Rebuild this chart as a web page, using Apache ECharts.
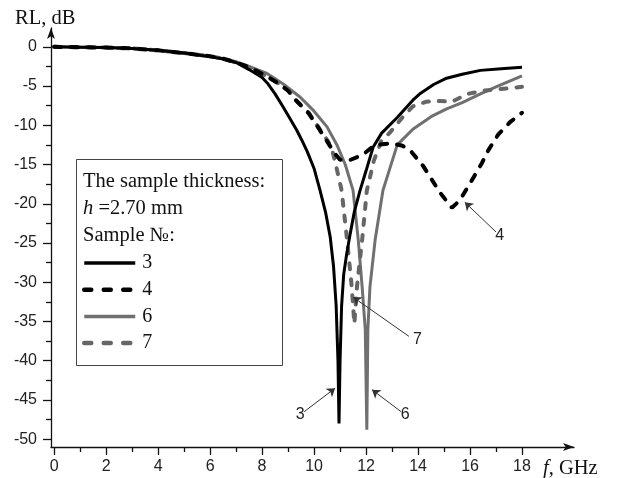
<!DOCTYPE html>
<html>
<head>
<meta charset="utf-8">
<script src="https://cdn.jsdelivr.net/npm/echarts@6/dist/echarts.min.js"></script>
<style>
  html, body { margin: 0; padding: 0; background: #fff; }
  #chart { width: 618px; height: 478px; }
</style>
</head>
<body>
<div id="chart"></div>
<script>
// sample 3 (black solid)
var freq3 = [0, 1, 2, 3, 4, 5, 6, 6.5, 7, 7.5, 8, 8.2, 8.5, 8.8, 9.1, 9.33, 9.53, 9.73, 10.0, 10.23, 10.45, 10.62, 10.75, 10.85, 10.92, 10.96, 11.0, 11.06, 11.14, 11.25, 11.38, 11.55, 11.77, 12.0, 12.27, 12.6, 13.2, 13.8, 14.1, 14.6, 15.1, 15.7, 16.4, 17.2, 18];
var rl3 = [0, -0.05, -0.1, -0.2, -0.45, -0.8, -1.25, -1.55, -2.0, -2.9, -3.9, -4.6, -6.0, -7.6, -9.3, -10.6, -11.9, -13.3, -15.5, -18.3, -21.2, -24.2, -28, -33, -40, -48, -40, -33, -29, -26.5, -24.0, -21, -18.3, -15.8, -12.8, -11, -9.0, -6.8, -5.9, -4.8, -4.0, -3.5, -3.0, -2.8, -2.6];

// sample 4 (black dashed)
var freq4 = [0, 1, 2, 3, 4, 5, 6, 6.5, 7, 7.5, 8.1, 8.6, 9.0, 9.3, 9.8, 10.2, 10.55, 10.8, 11.0, 11.4, 11.85, 12.35, 13.0, 13.4, 13.7, 14.2, 14.85, 15.3, 15.6, 16.0, 16.46, 16.7, 17.08, 17.54, 18];
var rl4 = [0, -0.05, -0.1, -0.2, -0.45, -0.8, -1.2, -1.5, -2.0, -2.6, -3.6, -4.6, -5.6, -6.8, -8.5, -10.5, -12.3, -13.6, -14.4, -14.4, -13.8, -12.5, -12.3, -12.6, -13.2, -15.2, -18.6, -20.5, -19.6, -17.4, -14.8, -13.2, -11.2, -9.6, -8.4];

// sample 6 (grey solid)
var freq6 = [0, 1, 2, 3, 4, 5, 6, 6.5, 7, 7.5, 8.19, 8.8, 9.46, 10.0, 10.5, 10.88, 11.2, 11.5, 11.7, 11.85, 11.97, 12.03, 12.07, 12.15, 12.35, 12.65, 13.2, 13.8, 14.5, 15.1, 15.7, 16.4, 17.0, 17.5, 18];
var rl6 = [0, -0.05, -0.1, -0.2, -0.45, -0.8, -1.2, -1.5, -1.9, -2.5, -3.4, -4.7, -6.4, -8.2, -10.2, -12.5, -15, -18.3, -24.6, -30.6, -36, -48.8, -36, -30.6, -24.6, -18.3, -12.5, -10.5, -8.9, -7.9, -7.1, -6.0, -5.1, -4.4, -3.7];

// sample 7 (grey dashed)
var freq7 = [0, 1, 2, 3, 4, 5, 6, 6.5, 7, 7.5, 8.1, 8.6, 9.0, 9.3, 9.8, 10.2, 10.55, 10.7, 10.85, 11.06, 11.27, 11.45, 11.55, 11.65, 11.85, 12.03, 12.3, 12.6, 12.9, 13.4, 13.8, 14.3, 14.85, 15.3, 15.9, 16.5, 17.4, 18];
var rl7 = [0, -0.05, -0.1, -0.2, -0.45, -0.8, -1.2, -1.5, -2.0, -2.6, -3.6, -4.6, -5.5, -6.8, -8.4, -10.4, -12.1, -13.2, -15.2, -18.3, -24.6, -30.6, -35.3, -30.6, -24.6, -18.3, -14.5, -11.9, -11.0, -9.0, -7.6, -7.0, -6.9, -7.0, -6.0, -5.6, -5.3, -5.1];

// axis ticks
var xMajor = [0, 2, 4, 6, 8, 10, 12, 14, 16, 18];
var xMinor = [1, 3, 5, 7, 9, 11, 13, 15, 17];
var yMajor = [0, -5, -10, -15, -20, -25, -30, -35, -40, -45, -50];
var yMinor = [-2.5, -7.5, -12.5, -17.5, -22.5, -27.5, -32.5, -37.5, -42.5, -47.5];

// pointer arrows: [label, from x, from y, to x, to y]
var pointers = [
    ['3', 9.62, -46.5, 10.81, -43.5],
    ['6', 13.35, -46.5, 12.23, -43.7],
    ['7', 13.65, -36.9, 11.5, -31.9],
    ['4', 17.0, -23.6, 15.8, -19.8]
];

function zip(xs, ys) {
    return xs.map(function (x, i) {
        return [x, ys[i]];
    });
}

var SANS = 'Liberation Sans, Arial, sans-serif';
var SERIF = 'Liberation Serif, Times New Roman, serif';
var AXIS_STYLE = {color: '#111', width: 1.3};

var chart = echarts.init(document.getElementById('chart'), null, {renderer: 'canvas'});

var option = {
    animation: false,
    grid: {left: 51, right: 44, top: 28, bottom: 31},
    xAxis: [
        {
            type: 'value', min: -0.12, max: 20,
            splitLine: {show: false},
            axisLine: {onZero: false, symbol: ['none', 'arrow'], symbolSize: [6, 11], lineStyle: AXIS_STYLE},
            axisTick: {customValues: xMajor, length: 8, lineStyle: AXIS_STYLE},
            axisLabel: {customValues: xMajor, margin: 12, fontFamily: SANS, fontSize: 16, color: '#222'}
        },
        {
            // minor ticks only
            type: 'value', min: -0.12, max: 20, position: 'bottom',
            splitLine: {show: false},
            axisLine: {show: false, onZero: false},
            axisLabel: {show: false},
            axisTick: {customValues: xMinor, length: 5, lineStyle: AXIS_STYLE}
        }
    ],
    yAxis: [
        {
            type: 'value', min: -51, max: 2.4,
            splitLine: {show: false},
            axisLine: {onZero: false, symbol: ['none', 'arrow'], symbolSize: [6, 11], lineStyle: AXIS_STYLE},
            axisTick: {customValues: yMajor, length: 8, lineStyle: AXIS_STYLE},
            axisLabel: {customValues: yMajor, margin: 14, fontFamily: SANS, fontSize: 16, color: '#222'}
        },
        {
            type: 'value', min: -51, max: 2.4, position: 'left',
            splitLine: {show: false},
            axisLine: {show: false, onZero: false},
            axisLabel: {show: false},
            axisTick: {customValues: yMinor, length: 5, lineStyle: AXIS_STYLE}
        }
    ],
    legend: {
        orient: 'vertical',
        left: 82,
        top: 253,
        padding: 0,
        itemWidth: 51,
        itemHeight: 14,
        itemGap: 6.7,
        data: [
            {name: '3', lineStyle: {width: 3.5}},
            {name: '4', lineStyle: {width: 4.5, type: [7, 12.5], cap: 'round'}},
            {name: '6', lineStyle: {width: 3.5}},
            {name: '7', lineStyle: {width: 4.5, type: [7, 12.5], cap: 'round'}}
        ],
        itemStyle: {opacity: 0},
        textStyle: {fontFamily: SERIF, fontSize: 20, color: '#111', lineHeight: 20, padding: [0, 0, 0, 2]}
    },
    graphic: [
        {
            type: 'rect', z: 3,
            shape: {x: 76.5, y: 159.5, width: 206, height: 206},
            style: {fill: '#fff', stroke: '#444', lineWidth: 1}
        },
        {
            type: 'text', z: 5, left: 83, top: 171,
            style: {text: 'The sample thickness:', font: '20.5px ' + SERIF, fill: '#111'}
        },
        {
            type: 'text', z: 5, left: 83, top: 198,
            style: {
                text: '{i|h} =2.70 mm',
                font: '20.5px ' + SERIF, fill: '#111',
                rich: {i: {fontStyle: 'italic', fontFamily: SERIF, fontSize: 20.5}}
            }
        },
        {
            type: 'text', z: 5, left: 83, top: 225,
            style: {text: 'Sample №:', font: '20.5px ' + SERIF, fill: '#111'}
        },
        {
            type: 'text', z: 5, left: 15, top: 8,
            style: {text: 'RL, dB', font: '20.5px ' + SERIF, fill: '#111'}
        },
        {
            type: 'text', z: 5, left: 543, top: 458,
            style: {
                text: '{i|f}, GHz',
                font: '20.5px ' + SERIF, fill: '#111',
                rich: {i: {fontStyle: 'italic', fontFamily: SERIF, fontSize: 20.5}}
            }
        }
    ],
    series: [
        {
            name: '3', type: 'line', z: 4,
            data: zip(freq3, rl3),
            symbol: 'none', showSymbol: false,
            lineStyle: {color: '#000', width: 3},
            itemStyle: {color: '#000'},
            markLine: {
                silent: true,
                symbol: ['none', 'arrow'],
                symbolSize: 8,
                lineStyle: {color: '#333', width: 1, type: 'solid'},
                label: {
                    position: 'start', distance: 5,
                    fontFamily: SANS, fontSize: 16, color: '#222',
                    formatter: function (p) { return p.name; }
                },
                data: pointers.map(function (p) {
                    return [
                        {name: p[0], coord: [p[1], p[2]]},
                        {coord: [p[3], p[4]]}
                    ];
                })
            }
        },
        {
            name: '4', type: 'line', z: 5,
            data: zip(freq4, rl4),
            symbol: 'none', showSymbol: false,
            lineStyle: {color: '#000', width: 4, type: [7, 10], cap: 'round'},
            itemStyle: {color: '#000'}
        },
        {
            name: '6', type: 'line', z: 2,
            data: zip(freq6, rl6),
            symbol: 'none', showSymbol: false,
            lineStyle: {color: '#707070', width: 3},
            itemStyle: {color: '#707070'}
        },
        {
            name: '7', type: 'line', z: 3,
            data: zip(freq7, rl7),
            symbol: 'none', showSymbol: false,
            lineStyle: {color: '#666', width: 4, type: [6, 10], cap: 'round'},
            itemStyle: {color: '#666'}
        }
    ]
};

chart.setOption(option);
</script>
</body>
</html>
